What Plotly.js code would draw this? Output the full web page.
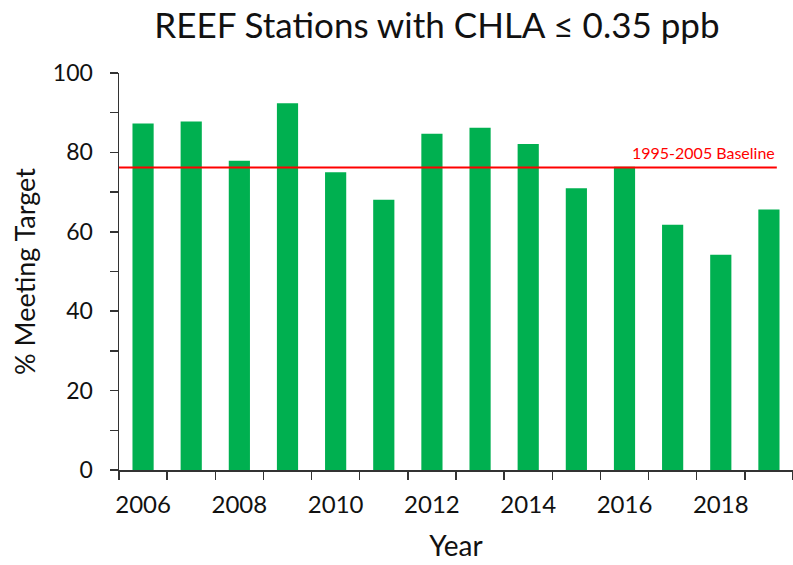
<!DOCTYPE html>
<html>
<head>
<meta charset="utf-8">
<script src="https://cdn.plot.ly/plotly-3.0.1.min.js"></script>
<style>html,body{margin:0;padding:0;background:#fff;}#chart{width:793px;height:565px;}</style>
</head>
<body>
<div id="chart"></div>
<script>
const years = [2006, 2007, 2008, 2009, 2010, 2011, 2012, 2013, 2014, 2015, 2016, 2017, 2018, 2019];
const pctMeeting = [87.3, 87.8, 77.9, 92.4, 75.0, 68.1, 84.7, 86.2, 82.1, 71.0, 76.4, 61.8, 54.2, 65.6];
const baselineValue = 76.2;
const baselineLabel = "1995-2005 Baseline";
const yTickVals = [0, 20, 40, 60, 80, 100];
const xTickVals = [2006, 2008, 2010, 2012, 2014, 2016, 2018];

const font = "Lato, 'Open Sans', sans-serif";

const trace = {
  type: "bar",
  x: years,
  y: pctMeeting,
  marker: {color: "#00B050", line: {width: 0}},
  width: 0.44,
  hoverinfo: "x+y"
};

const layout = {
  width: 793, height: 565,
  margin: {l: 119, r: 0, t: 73, b: 95},
  paper_bgcolor: "#fff", plot_bgcolor: "#fff",
  showlegend: false,
  title: {text: "REEF Stations with CHLA ≤ 0.35 ppb", font: {family: font, size: 35, color: "#111"},
          x: 0.551, xanchor: "center", y: 0.955, yanchor: "middle"},
  xaxis: {
    range: [2005.5, 2019.5],
    tickvals: xTickVals,
    ticktext: xTickVals.map(String),
    ticks: "", showgrid: false, zeroline: false,
    showline: true, linecolor: "#333", linewidth: 1.5,
    tickfont: {family: font, size: 24, color: "#111"},
    ticklabelstandoff: 13,
    minor: {tick0: 2005.5, dtick: 1, ticks: "outside", ticklen: 8, tickcolor: "#333", tickwidth: 1.5, showgrid: false},
    title: {text: "Year", font: {family: font, size: 28, color: "#111"}, standoff: 19}
  },
  yaxis: {
    range: [0, 100],
    tickvals: yTickVals,
    ticks: "outside", ticklen: 8, tickcolor: "#333", tickwidth: 1.5,
    showgrid: false, zeroline: false,
    showline: true, linecolor: "#333", linewidth: 1.5,
    tickfont: {family: font, size: 23, color: "#111"},
    ticklabelstandoff: 12,
    minor: {dtick: 10, tick0: 0, ticks: "outside", ticklen: 8, tickcolor: "#333", tickwidth: 1.5, showgrid: false},
    title: {text: "% Meeting Target", font: {family: font, size: 27, color: "#111"}, standoff: 9}
  },
  shapes: [{
    type: "line", xref: "paper", yref: "y",
    x0: 0, x1: 0.976, y0: baselineValue, y1: baselineValue,
    line: {color: "#FF0000", width: 2}
  }],
  annotations: [{
    xref: "paper", yref: "y", x: 0.976, y: baselineValue,
    xanchor: "right", yanchor: "bottom", yshift: 3, showarrow: false,
    text: baselineLabel, font: {family: font, size: 16, color: "#FF0000"}
  }]
};

Plotly.newPlot("chart", [trace], layout, {displayModeBar: false, staticPlot: true});
</script>
</body>
</html>
